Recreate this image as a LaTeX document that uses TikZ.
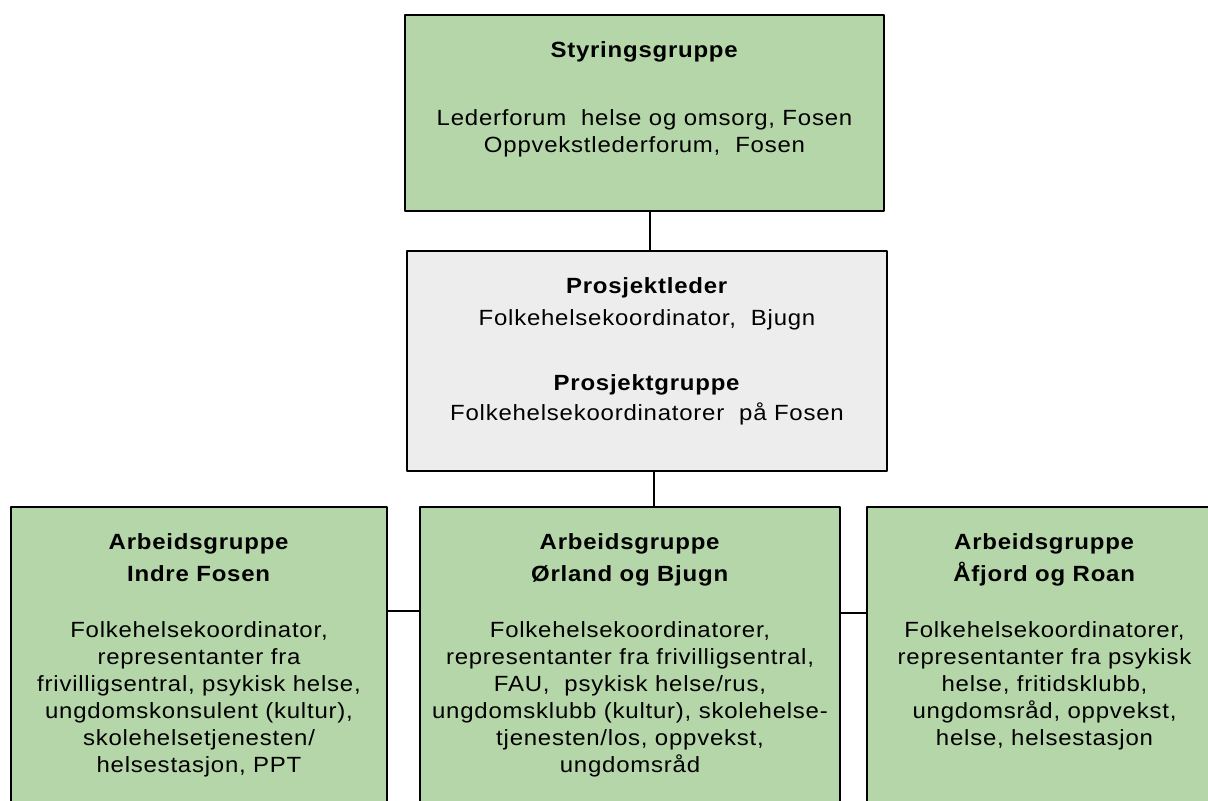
\documentclass[tikz,border=0pt]{standalone}
\usepackage{fontspec}
\setmainfont{Liberation Sans}[FakeStretch=1.09,LetterSpace=3.5]
\usepackage{tikz}
\definecolor{litegreen}{rgb}{0.71,0.84,0.66}
\definecolor{litegray}{rgb}{0.93,0.93,0.93}
\begin{document}
\begin{tikzpicture}[line cap=round,line join=round,x=0.5pt,y=-0.5pt,
	box/.style={draw,line width=1pt,inner sep=0pt},
	greenbox/.style={box,fill=litegreen},
	graybox/.style={box,fill=litegray},
	txt/.style={anchor=north,inner sep=0pt,align=center,font=\fontsize{11}{13.5}\selectfont,yshift=-13.5pt},
	link/.style={line width=0.8pt}]
	\useasboundingbox (0,0) rectangle (1208,800);
	\clip (0,0) rectangle (1208,800);
	% styringsgruppe
	\node[greenbox,minimum width=239.5pt,minimum height=98pt] (sty) at (644.5,113) {};
	\node[txt] (stytxt) at (sty.north) {\textbf{Styringsgruppe}\\[20.5pt]
		Lederforum\ \ helse og omsorg, Fosen\\
		Oppvekstlederforum,\ \ Fosen};
	% prosjektleder og prosjektgruppe
	\node[graybox,minimum width=240pt,minimum height=110pt] (pro) at (647,361) {};
	\node[txt] (protxt) at (pro.north) {\textbf{Prosjektleder}\\[2.5pt]
		Folkehelsekoordinator,\ \ Bjugn\\[19pt]
		\textbf{Prosjektgruppe}\\[1.5pt]
		Folkehelsekoordinatorer\ \ på Fosen};
	% arbeidsgrupper
	\node[greenbox,minimum width=188pt,minimum height=161.5pt] (indre) at (199,668.5) {};
	\node[greenbox,minimum width=210pt,minimum height=161.5pt] (orl) at (630,668.5) {};
	\node[greenbox,minimum width=177.5pt,minimum height=161.5pt] (afj) at (1044.5,668.5) {};
	\node[txt] (indretxt) at (indre.north) {\textbf{Arbeidsgruppe}\\[2.5pt]
		\textbf{Indre Fosen}\\[14.5pt]
		Folkehelsekoordinator,\\
		representanter fra\\
		frivilligsentral, psykisk helse,\\
		ungdomskonsulent (kultur),\\
		skolehelsetjenesten/\\
		helsestasjon, PPT};
	\node[txt] (orltxt) at (orl.north) {\textbf{Arbeidsgruppe}\\[2.5pt]
		\textbf{Ørland og Bjugn}\\[14.5pt]
		Folkehelsekoordinatorer,\\
		representanter fra frivilligsentral,\\
		FAU,\ \ psykisk helse/rus,\\
		ungdomsklubb (kultur), skolehelse-\\
		tjenesten/los, oppvekst,\\
		ungdomsråd};
	\node[txt] (afjtxt) at (afj.north) {\textbf{Arbeidsgruppe}\\[2.5pt]
		\textbf{Åfjord og Roan}\\[14.5pt]
		Folkehelsekoordinatorer,\\
		representanter fra psykisk\\
		helse, fritidsklubb,\\
		ungdomsråd, oppvekst,\\
		helse, helsestasjon};

	\coordinate (stylink) at (650,0);
	\coordinate (orllink) at (654,0);
	\coordinate (leftlink) at (0,611);
	\coordinate (rightlink) at (0,613);
	\draw [link] (sty.south -| stylink) -- (pro.north -| stylink);
	\draw [link] (pro.south -| orllink) -- (orl.north -| orllink);
	\draw [link] (indre.east |- leftlink) -- (orl.west |- leftlink);
	\draw [link] (orl.east |- rightlink) -- (afj.west |- rightlink);
\end{tikzpicture}
\end{document}
